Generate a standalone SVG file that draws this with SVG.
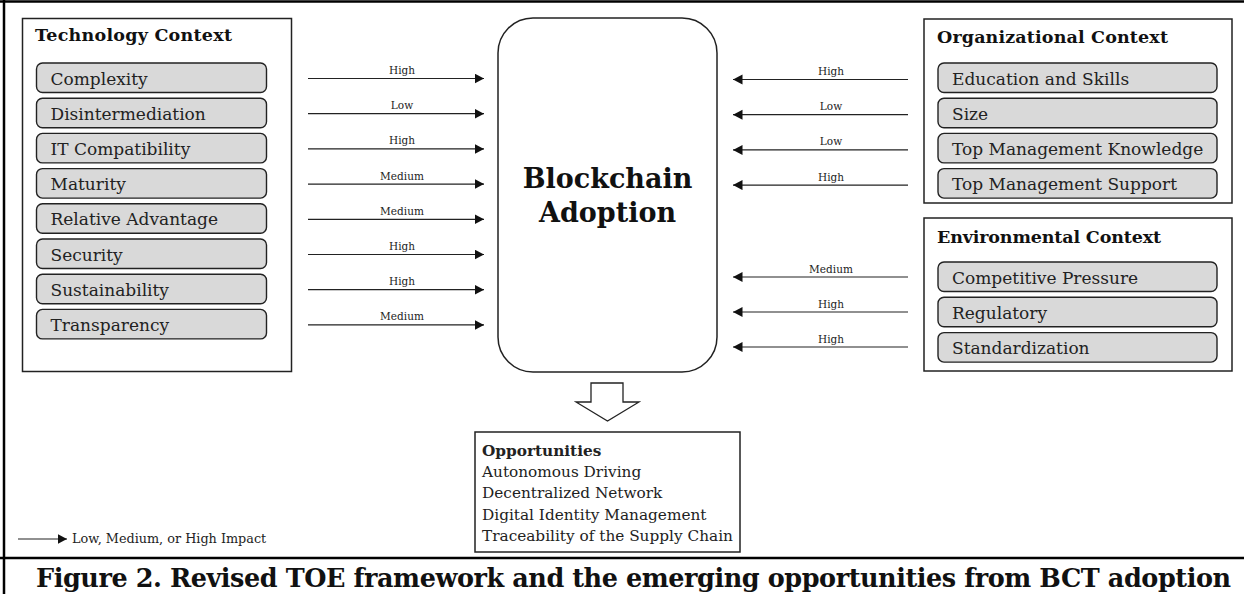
<svg xmlns="http://www.w3.org/2000/svg" width="1244" height="594" viewBox="0 0 1244 594">
<style>
  .frame{fill:none;stroke:#000;stroke-width:2.5}
  .ctx{fill:#fff;stroke:#222;stroke-width:1.5}
  .item{fill:#d9d9d9;stroke:#222;stroke-width:1.4}
  .title{font-family:"DejaVu Serif",Georgia,serif;font-weight:bold;font-size:17.5px;fill:#111}
  .it{font-family:"DejaVu Serif",Georgia,serif;font-size:17px;fill:#222}
  .lbl{font-family:"DejaVu Serif",Georgia,serif;font-size:10.5px;fill:#222;text-anchor:middle}
  .conn line{stroke:#222;stroke-width:1.2}
  .opp{font-family:"DejaVu Serif",Georgia,serif;font-size:15.3px;fill:#222}
</style>
<defs>
  <marker id="ah" markerWidth="11" markerHeight="11" refX="9.5" refY="5" orient="auto" markerUnits="userSpaceOnUse">
    <path d="M0,0 L9.5,5 L0,10 Z" fill="#111"/>
  </marker>
</defs>
<rect width="1244" height="594" fill="#fff"/>
<!-- outer frame -->
<g id="frame">
  <line class="frame" x1="0" y1="1.5" x2="1244" y2="1.5"/>
  <line class="frame" x1="4" y1="0" x2="4" y2="594"/>
  <line class="frame" x1="0" y1="558" x2="1244" y2="558"/>
</g>

<!-- Technology context -->
<g id="technology-context">
  <rect class="ctx" x="22.5" y="18.5" width="269" height="353"/>
  <text class="title" x="35" y="41" textLength="197">Technology Context</text>
  <g id="t-complexity"><rect class="item" x="36.5" y="63" width="230" height="29.5" rx="6"/><text class="it" x="50.5" y="84.5">Complexity</text></g>
  <g id="t-disintermediation"><rect class="item" x="36.5" y="98.2" width="230" height="29.5" rx="6"/><text class="it" x="50.5" y="119.7">Disintermediation</text></g>
  <g id="t-it-compatibility"><rect class="item" x="36.5" y="133.4" width="230" height="29.5" rx="6"/><text class="it" x="50.5" y="154.9">IT Compatibility</text></g>
  <g id="t-maturity"><rect class="item" x="36.5" y="168.6" width="230" height="29.5" rx="6"/><text class="it" x="50.5" y="190.1">Maturity</text></g>
  <g id="t-relative-advantage"><rect class="item" x="36.5" y="203.8" width="230" height="29.5" rx="6"/><text class="it" x="50.5" y="225.3">Relative Advantage</text></g>
  <g id="t-security"><rect class="item" x="36.5" y="239" width="230" height="29.5" rx="6"/><text class="it" x="50.5" y="260.5">Security</text></g>
  <g id="t-sustainability"><rect class="item" x="36.5" y="274.2" width="230" height="29.5" rx="6"/><text class="it" x="50.5" y="295.7">Sustainability</text></g>
  <g id="t-transparency"><rect class="item" x="36.5" y="309.4" width="230" height="29.5" rx="6"/><text class="it" x="50.5" y="330.9">Transparency</text></g>
</g>

<!-- Blockchain adoption -->
<g id="blockchain-adoption">
  <rect x="498" y="18" width="219" height="354" rx="35" fill="#fff" stroke="#222" stroke-width="1.5"/>
  <text x="607.5" y="188" text-anchor="middle" style="font-family:'DejaVu Serif',Georgia,serif;font-weight:bold;font-size:27px;fill:#111">Blockchain</text>
  <text x="607.5" y="222" text-anchor="middle" style="font-family:'DejaVu Serif',Georgia,serif;font-weight:bold;font-size:27px;fill:#111">Adoption</text>
</g>

<!-- Organizational context -->
<g id="organizational-context">
  <rect class="ctx" x="924" y="19" width="308" height="184"/>
  <text class="title" x="937" y="43" textLength="231">Organizational Context</text>
  <g id="o-education"><rect class="item" x="938" y="63" width="279" height="29.5" rx="6"/><text class="it" x="952" y="84.5">Education and Skills</text></g>
  <g id="o-size"><rect class="item" x="938" y="98.2" width="279" height="29.5" rx="6"/><text class="it" x="952" y="119.7">Size</text></g>
  <g id="o-tm-knowledge"><rect class="item" x="938" y="133.4" width="279" height="29.5" rx="6"/><text class="it" x="952" y="154.9">Top Management Knowledge</text></g>
  <g id="o-tm-support"><rect class="item" x="938" y="168.6" width="279" height="29.5" rx="6"/><text class="it" x="952" y="190.1">Top Management Support</text></g>
</g>

<!-- Environmental context -->
<g id="environmental-context">
  <rect class="ctx" x="924" y="218" width="308" height="153"/>
  <text class="title" x="937" y="243" textLength="224">Environmental Context</text>
  <g id="e-competitive"><rect class="item" x="938" y="262" width="279" height="29.5" rx="6"/><text class="it" x="952" y="283.5">Competitive Pressure</text></g>
  <g id="e-regulatory"><rect class="item" x="938" y="297.3" width="279" height="29.5" rx="6"/><text class="it" x="952" y="318.8">Regulatory</text></g>
  <g id="e-standardization"><rect class="item" x="938" y="332.6" width="279" height="29.5" rx="6"/><text class="it" x="952" y="354.1">Standardization</text></g>
</g>

<!-- Connectors -->
<g id="connectors" class="conn">
  <line x1="308" y1="78.5" x2="484" y2="78.5" marker-end="url(#ah)"/>
  <line x1="308" y1="113.7" x2="484" y2="113.7" marker-end="url(#ah)"/>
  <line x1="308" y1="148.9" x2="484" y2="148.9" marker-end="url(#ah)"/>
  <line x1="308" y1="184.1" x2="484" y2="184.1" marker-end="url(#ah)"/>
  <line x1="308" y1="219.3" x2="484" y2="219.3" marker-end="url(#ah)"/>
  <line x1="308" y1="254.5" x2="484" y2="254.5" marker-end="url(#ah)"/>
  <line x1="308" y1="289.7" x2="484" y2="289.7" marker-end="url(#ah)"/>
  <line x1="308" y1="324.9" x2="484" y2="324.9" marker-end="url(#ah)"/>

  <line x1="908" y1="79.5" x2="733" y2="79.5" marker-end="url(#ah)"/>
  <line x1="908" y1="114.7" x2="733" y2="114.7" marker-end="url(#ah)"/>
  <line x1="908" y1="149.9" x2="733" y2="149.9" marker-end="url(#ah)"/>
  <line x1="908" y1="185.1" x2="733" y2="185.1" marker-end="url(#ah)"/>

  <line x1="908" y1="277" x2="733" y2="277" marker-end="url(#ah)"/>
  <line x1="908" y1="312" x2="733" y2="312" marker-end="url(#ah)"/>
  <line x1="908" y1="347" x2="733" y2="347" marker-end="url(#ah)"/>

  <polygon points="591,383 623,383 623,402 639,402 607.5,421 576,402 591,402" fill="#fff" stroke="#222" stroke-width="1.3"/>

  <line x1="18" y1="539" x2="67" y2="539" marker-end="url(#ah)"/>
</g>

<g id="connector-labels">
  <text class="lbl" x="402" y="74">High</text>
  <text class="lbl" x="402" y="109.2">Low</text>
  <text class="lbl" x="402" y="144.4">High</text>
  <text class="lbl" x="402" y="179.6">Medium</text>
  <text class="lbl" x="402" y="214.8">Medium</text>
  <text class="lbl" x="402" y="250">High</text>
  <text class="lbl" x="402" y="285.2">High</text>
  <text class="lbl" x="402" y="320.4">Medium</text>

  <text class="lbl" x="831" y="75">High</text>
  <text class="lbl" x="831" y="110.2">Low</text>
  <text class="lbl" x="831" y="145.4">Low</text>
  <text class="lbl" x="831" y="180.6">High</text>

  <text class="lbl" x="831" y="272.5">Medium</text>
  <text class="lbl" x="831" y="307.5">High</text>
  <text class="lbl" x="831" y="342.5">High</text>
</g>

<!-- Opportunities -->
<g id="opportunities">
  <rect x="475" y="432" width="265" height="120" fill="#fff" stroke="#222" stroke-width="1.5"/>
  <text class="opp" x="482" y="456" style="font-weight:bold">Opportunities</text>
  <text class="opp" x="482" y="477">Autonomous Driving</text>
  <text class="opp" x="482" y="498">Decentralized Network</text>
  <text class="opp" x="482" y="520">Digital Identity Management</text>
  <text class="opp" x="482" y="541">Traceability of the Supply Chain</text>
</g>

<!-- Legend -->
<g id="legend">
  <text x="72" y="543" style="font-family:'DejaVu Serif',Georgia,serif;font-size:12.8px;fill:#222">Low, Medium, or High Impact</text>
</g>

<!-- Caption -->
<text x="36" y="587" textLength="1195" style="font-family:'DejaVu Serif',Georgia,serif;font-weight:bold;font-size:25.5px;fill:#111">Figure 2. Revised TOE framework and the emerging opportunities from BCT adoption</text>
</svg>
